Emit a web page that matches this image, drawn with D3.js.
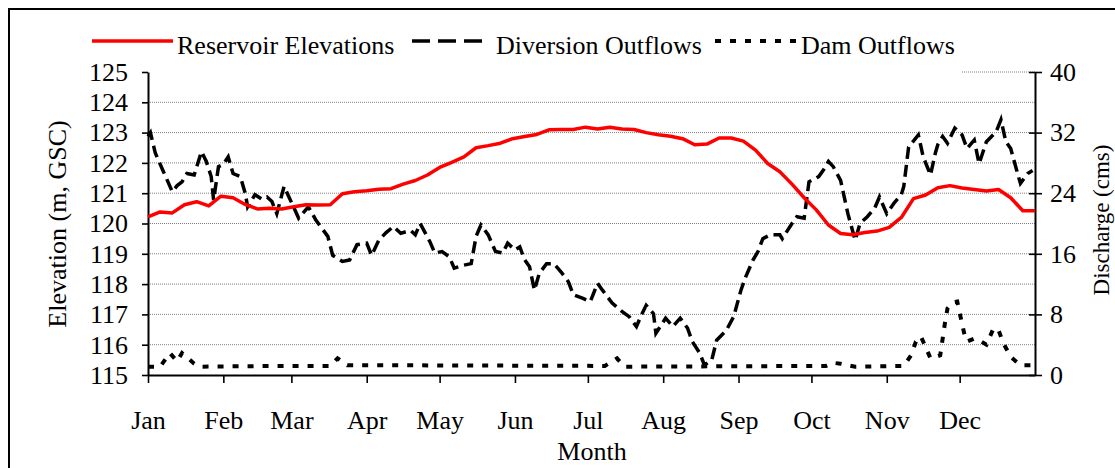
<!DOCTYPE html>
<html>
<head>
<meta charset="utf-8">
<script src="https://cdn.jsdelivr.net/npm/d3@7"></script>
<style>
body{margin:0;background:#fff}
svg text{font-family:"Liberation Serif","Times New Roman",serif;font-size:26px;fill:#000}
</style>
</head>
<body>
<svg id="chart" width="1115" height="468"></svg>
<script>
// month labels and the day of year each month starts on
const months = ["Jan","Feb","Mar","Apr","May","Jun","Jul","Aug","Sep","Oct","Nov","Dec"]
const monthStart = [0,31,59,90,120,151,181,212,243,273,304,334]
const elevTicks = [115,116,117,118,119,120,121,122,123,124,125]
const flowTicks = [0,8,16,24,32,40]

// reservoir elevation (m), read every 5 days
const elevDays = [0,5,10,15,20,25,30,35,40,45,50,55,60,65,70,75,80,85,90,95,100,105,110,115,120,125,130,135,140,145,150,155,160,165,170,175,180,185,190,195,200,205,210,215,220,225,230,235,240,245,250,255,260,265,270,275,280,285,290,295,300,305,310,315,320,325,330,335,340,345,350,355,360,365]
const elevValues = [120.22,120.38,120.35,120.62,120.72,120.58,120.9,120.85,120.63,120.48,120.5,120.48,120.55,120.62,120.61,120.62,120.98,121.05,121.08,121.13,121.15,121.3,121.42,121.6,121.85,122.02,122.2,122.5,122.57,122.65,122.8,122.87,122.94,123.09,123.1,123.1,123.18,123.12,123.18,123.12,123.1,123.0,122.93,122.88,122.8,122.6,122.62,122.82,122.82,122.72,122.42,121.98,121.71,121.3,120.85,120.45,119.95,119.67,119.63,119.7,119.75,119.87,120.2,120.82,120.94,121.18,121.25,121.17,121.12,121.07,121.12,120.85,120.42,120.42]

// diversion outflows (cms)
const divDays = [0,1,3,6,10,12,14,16,19,22,24,26,27,29,31,33,35,38,40,41,44,47,49,51,53,56,58,62,66,69,71,74,76,80,83,86,90,92,95,98,101,104,108,110,112,116,118,121,124,126,130,133,135,137,140,143,146,148,151,153,155,157,159,161,164,167,170,173,175,179,182,185,187,191,195,198,201,203,205,208,209,213,216,219,222,224,227,229,232,234,238,241,244,246,249,251,253,256,260,261,265,267,270,272,276,278,280,282,285,288,291,293,296,299,301,304,307,310,311,313,317,319,322,324,325,327,329,332,335,337,340,342,345,349,351,353,355,358,359,362,364]
const divFlow = [31.5,32,29.3,27.1,24.2,25.0,25.5,26.6,26.4,29.5,28.2,26.2,23.1,27.5,27.8,28.8,26.6,26.2,24.0,22.2,23.8,23.2,23.5,22.9,21.3,24.9,23.5,20.7,22.2,20.5,19.6,18.3,15.8,15.0,15.2,17.2,17.4,15.8,17.8,18.8,19.6,18.7,19.1,18.5,20.0,17.6,16.1,16.3,15.6,14.1,14.5,14.7,18.3,19.8,18.5,16.3,16.1,17.4,16.5,16.9,15.2,14.3,11.2,13.4,14.7,14.7,13.6,12.3,10.6,10.1,9.7,12.1,11.2,9.5,8.4,7.7,6.4,7.9,9.2,8.1,5.5,7.5,6.4,7.5,6.2,4.4,2.9,1.3,2.0,4.6,5.9,7.7,11.2,13.0,15.2,16.3,18.0,18.5,18.5,18.0,20.0,20.9,20.7,25.5,26.2,27.1,28.2,27.5,25.7,21.3,17.8,20.0,20.9,22.0,23.5,21.3,22.7,23.8,24.9,30.1,31.7,28.8,26.4,29.3,30.4,31.5,30.6,32.6,31.7,29.9,31.0,27.9,30.8,32.1,33.7,30.8,29.9,26.4,25.3,26.6,27.0]

// dam outflows (cms)
const damDays = [0,5,9,12,14,19,21,55,75,78,82,188,193,196,279,282,285,291,311,314,316,318,320,322,326,327,328,329,331,333,334,336,337,340,342,345,348,350,352,355,359,365]
const damFlow = [1.1,1.1,2.9,1.8,2.9,1.5,1.1,1.2,1.2,2.2,1.3,1.2,2.2,1.1,1.2,1.6,1.5,1.1,1.2,2.6,4.4,5.1,3.7,2.2,2.6,4.8,7.0,8.8,9.6,9.7,8.2,5.3,4.4,4.8,4.6,4.0,6.2,5.9,4.2,2.4,1.3,1.3]

const seriesNames = ["Reservoir Elevations","Diversion Outflows","Dam Outflows"]

let svg = d3.select("#chart")

let x = d3.scaleLinear().domain([0,365]).range([148,1035])
let yL = d3.scaleLinear().domain([115,125]).range([375,72])
let yR = d3.scaleLinear().domain([0,40]).range([375,72])

// outer frame
svg.append("rect")
    .attr("x",9).attr("y",9)
    .attr("width",1130).attr("height",480)
    .attr("fill","none").attr("stroke","#000").attr("stroke-width",2)

// gridlines
svg.append("g").selectAll("line")
    .data(elevTicks.slice(1))
    .enter().append("line")
    .attr("x1",148).attr("x2",1035)
    .attr("y1",d=>yL(d)).attr("y2",d=>yL(d))
    .attr("stroke","#808080").attr("stroke-width",1)
    .attr("stroke-dasharray","1,1")

// legend background covers the top gridline
svg.append("rect")
    .attr("x",85).attr("y",20).attr("width",877).attr("height",54)
    .attr("fill","#fff")

// axes
let leftAxis = svg.append("g")
    .attr("transform",`translate(148,0)`)
    .call(d3.axisLeft(yL).tickValues(elevTicks).tickSize(6).tickSizeOuter(0).tickPadding(14))
let rightAxis = svg.append("g")
    .attr("transform",`translate(1035,0)`)
    .call(d3.axisRight(yR).tickValues(flowTicks).tickSize(7).tickSizeOuter(0).tickPadding(8))
rightAxis.selectAll(".tick line").attr("x1",-6)
let bottomAxis = svg.append("g")
    .attr("transform",`translate(0,375)`)
    .call(d3.axisBottom(x).tickValues(monthStart).tickSize(8).tickSizeOuter(0)
        .tickFormat((d,i)=>months[i]))
bottomAxis.selectAll(".tick text").attr("dy",null).attr("y",54)

svg.selectAll(".domain").attr("stroke-width",2)
svg.selectAll(".tick line").attr("stroke-width",1.6)

// axis titles
svg.append("text")
    .attr("transform",`translate(66,224) rotate(-90)`)
    .attr("text-anchor","middle")
    .text("Elevation (m, GSC)")
svg.append("text")
    .attr("transform",`translate(1109,220) rotate(-90)`)
    .attr("text-anchor","middle")
    .style("font-size","23px")
    .text("Discharge (cms)")
svg.append("text")
    .attr("x",592).attr("y",460)
    .attr("text-anchor","middle")
    .text("Month")

// series
let elevData = elevDays.map((d,i)=>({day:d,v:elevValues[i]}))
let divData = divDays.map((d,i)=>({day:d,v:divFlow[i]}))
let damData = damDays.map((d,i)=>({day:d,v:damFlow[i]}))

let lineL = d3.line().x(d=>x(d.day)).y(d=>yL(d.v))
let lineR = d3.line().x(d=>x(d.day)).y(d=>yR(d.v))

svg.append("path").datum(damData)
    .attr("d",lineR)
    .attr("fill","none").attr("stroke","#000").attr("stroke-width",4)
    .attr("stroke-dasharray","6,9")
svg.append("path").datum(divData)
    .attr("d",lineR)
    .attr("fill","none").attr("stroke","#000").attr("stroke-width",3.5)
    .attr("stroke-dasharray","12,6")
svg.append("path").datum(elevData)
    .attr("d",lineL)
    .attr("fill","none").attr("stroke","#ff0000").attr("stroke-width",3.5)
    .attr("stroke-linejoin","round")

// legend
let legendItems = [
    {x1:92,x2:173,tx:177,color:"#ff0000",dash:null,w:3.5},
    {x1:412,x2:485,tx:496,color:"#000",dash:"18,8",w:3.5},
    {x1:715,x2:797,tx:801,color:"#000",dash:"6,9",w:4}
]
legendItems.forEach(function (d,i){
    let lgnd = svg.append("g")
    lgnd.append("line")
        .attr("x1",d.x1).attr("x2",d.x2).attr("y1",41).attr("y2",41)
        .attr("stroke",d.color).attr("stroke-width",d.w)
        .attr("stroke-dasharray",d.dash)
    lgnd.append("text").attr("x",d.tx).attr("y",54).text(seriesNames[i])
})
</script>
</body>
</html>
